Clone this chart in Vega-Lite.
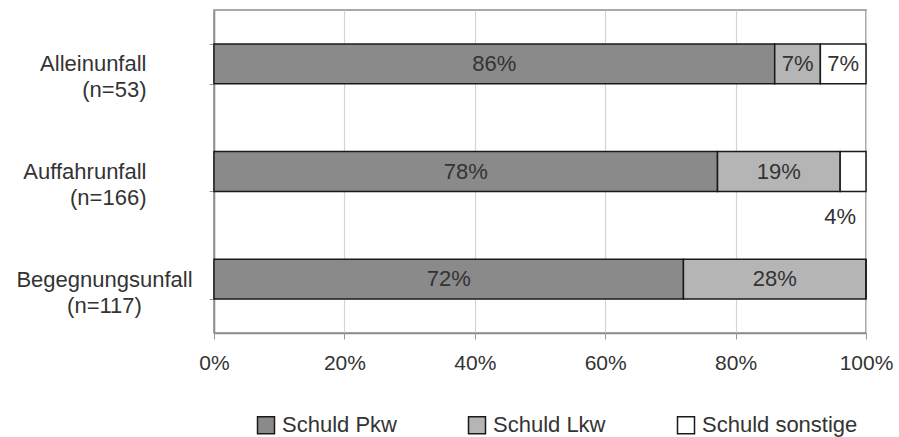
{
  "$schema": "https://vega.github.io/schema/vega-lite/v6.json",
  "autosize": {"type": "none"},
  "width": 652,
  "height": 323,
  "padding": {"left": 214, "top": 10, "right": 33, "bottom": 104},
  "background": "white",
  "config": {
    "font": "Liberation Sans",
    "view": {"stroke": "#8c8c8c", "strokeWidth": 1.5},
    "axis": {"labelFont": "Liberation Sans", "labelColor": "#333333"}
  },
  "data": {
    "values": [
      {"kategorie": "Alleinunfall (n=53)", "typ": "Schuld Pkw", "wert": 86},
      {"kategorie": "Alleinunfall (n=53)", "typ": "Schuld Lkw", "wert": 7},
      {"kategorie": "Alleinunfall (n=53)", "typ": "Schuld sonstige", "wert": 7},
      {"kategorie": "Auffahrunfall (n=166)", "typ": "Schuld Pkw", "wert": 78},
      {"kategorie": "Auffahrunfall (n=166)", "typ": "Schuld Lkw", "wert": 19},
      {"kategorie": "Auffahrunfall (n=166)", "typ": "Schuld sonstige", "wert": 4},
      {"kategorie": "Begegnungsunfall (n=117)", "typ": "Schuld Pkw", "wert": 72},
      {"kategorie": "Begegnungsunfall (n=117)", "typ": "Schuld Lkw", "wert": 28},
      {"kategorie": "Begegnungsunfall (n=117)", "typ": "Schuld sonstige", "wert": 0}
    ]
  },
  "transform": [
    {"calculate": "indexof(['Schuld Pkw','Schuld Lkw','Schuld sonstige'], datum.typ)", "as": "reihenfolge"}
  ],
  "encoding": {
    "y": {
      "field": "kategorie",
      "type": "nominal",
      "sort": ["Alleinunfall (n=53)", "Auffahrunfall (n=166)", "Begegnungsunfall (n=117)"],
      "scale": {"paddingInner": 0.63, "paddingOuter": 0.315},
      "axis": {
        "title": null,
        "labelExpr": "split(datum.label, ' ')",
        "labelFontSize": 22,
        "labelAlign": {"condition": {"test": "datum.value == 'Begegnungsunfall (n=117)'", "value": "center"}, "value": "right"},
        "labelPadding": {"condition": {"test": "datum.value == 'Begegnungsunfall (n=117)'", "value": 105}, "value": 63},
        "labelLineHeight": 26,
        "tickSize": 5,
        "tickColor": "#999999",
        "domainColor": "#8c8c8c",
        "domainWidth": 1.5,
        "tickBand": "extent"
      }
    }
  },
  "layer": [
    {
      "mark": {"type": "bar", "stroke": "#1a1a1a", "strokeWidth": 1.5},
      "encoding": {
        "x": {
          "field": "wert",
          "type": "quantitative",
          "stack": "normalize",
          "scale": {"domain": [0, 1], "nice": false},
          "axis": {
            "title": null,
            "format": ".0%",
            "values": [0, 0.2, 0.4, 0.6, 0.8, 1],
            "grid": true,
            "gridColor": "#d4d4d4",
            "gridWidth": 1.2,
            "tickSize": 6,
            "tickColor": "#999999",
            "domainColor": "#8c8c8c",
            "domainWidth": 1.5,
            "labelFontSize": 21,
            "labelPadding": 13,
            "labelFlush": false
          }
        },
        "color": {
          "field": "typ",
          "type": "nominal",
          "scale": {
            "domain": ["Schuld Pkw", "Schuld Lkw", "Schuld sonstige"],
            "range": ["#8a8a8a", "#b5b5b5", "#ffffff"]
          },
          "legend": {
            "title": null,
            "orient": "none",
            "legendX": 41,
            "legendY": 404,
            "direction": "horizontal",
            "symbolType": "square",
            "symbolSize": 289,
            "symbolStrokeColor": "#1a1a1a",
            "symbolStrokeWidth": 1.5,
            "symbolOpacity": 1,
            "labelFontSize": 22,
            "labelColor": "#333333",
            "labelFont": "Liberation Sans",
            "labelOffset": 5,
            "columnPadding": 68
          }
        },
        "order": {"field": "reihenfolge", "type": "quantitative"}
      }
    },
    {
      "transform": [
        {"joinaggregate": [{"op": "sum", "field": "wert", "as": "gesamt"}], "groupby": ["kategorie"]},
        {"window": [{"op": "sum", "field": "wert", "as": "kum"}], "groupby": ["kategorie"], "sort": [{"field": "reihenfolge"}], "frame": [null, 0]},
        {"calculate": "(datum.kum - datum.wert / 2) / datum.gesamt", "as": "mitte"},
        {"calculate": "datum.wert + '%'", "as": "beschriftung"},
        {"filter": "datum.wert >= 5"}
      ],
      "mark": {"type": "text", "fontSize": 22, "color": "#333333", "font": "Liberation Sans", "baseline": "middle"},
      "encoding": {
        "x": {"field": "mitte", "type": "quantitative"},
        "text": {"field": "beschriftung"}
      }
    },
    {
      "transform": [
        {"joinaggregate": [{"op": "sum", "field": "wert", "as": "gesamt"}], "groupby": ["kategorie"]},
        {"window": [{"op": "sum", "field": "wert", "as": "kum"}], "groupby": ["kategorie"], "sort": [{"field": "reihenfolge"}], "frame": [null, 0]},
        {"calculate": "(datum.kum - datum.wert / 2) / datum.gesamt", "as": "mitte"},
        {"calculate": "datum.wert + '%'", "as": "beschriftung"},
        {"filter": "datum.wert > 0 && datum.wert < 5"}
      ],
      "mark": {"type": "text", "fontSize": 22, "color": "#333333", "font": "Liberation Sans", "baseline": "middle", "dx": -13, "dy": 45},
      "encoding": {
        "x": {"field": "mitte", "type": "quantitative"},
        "text": {"field": "beschriftung"}
      }
    }
  ]
}
